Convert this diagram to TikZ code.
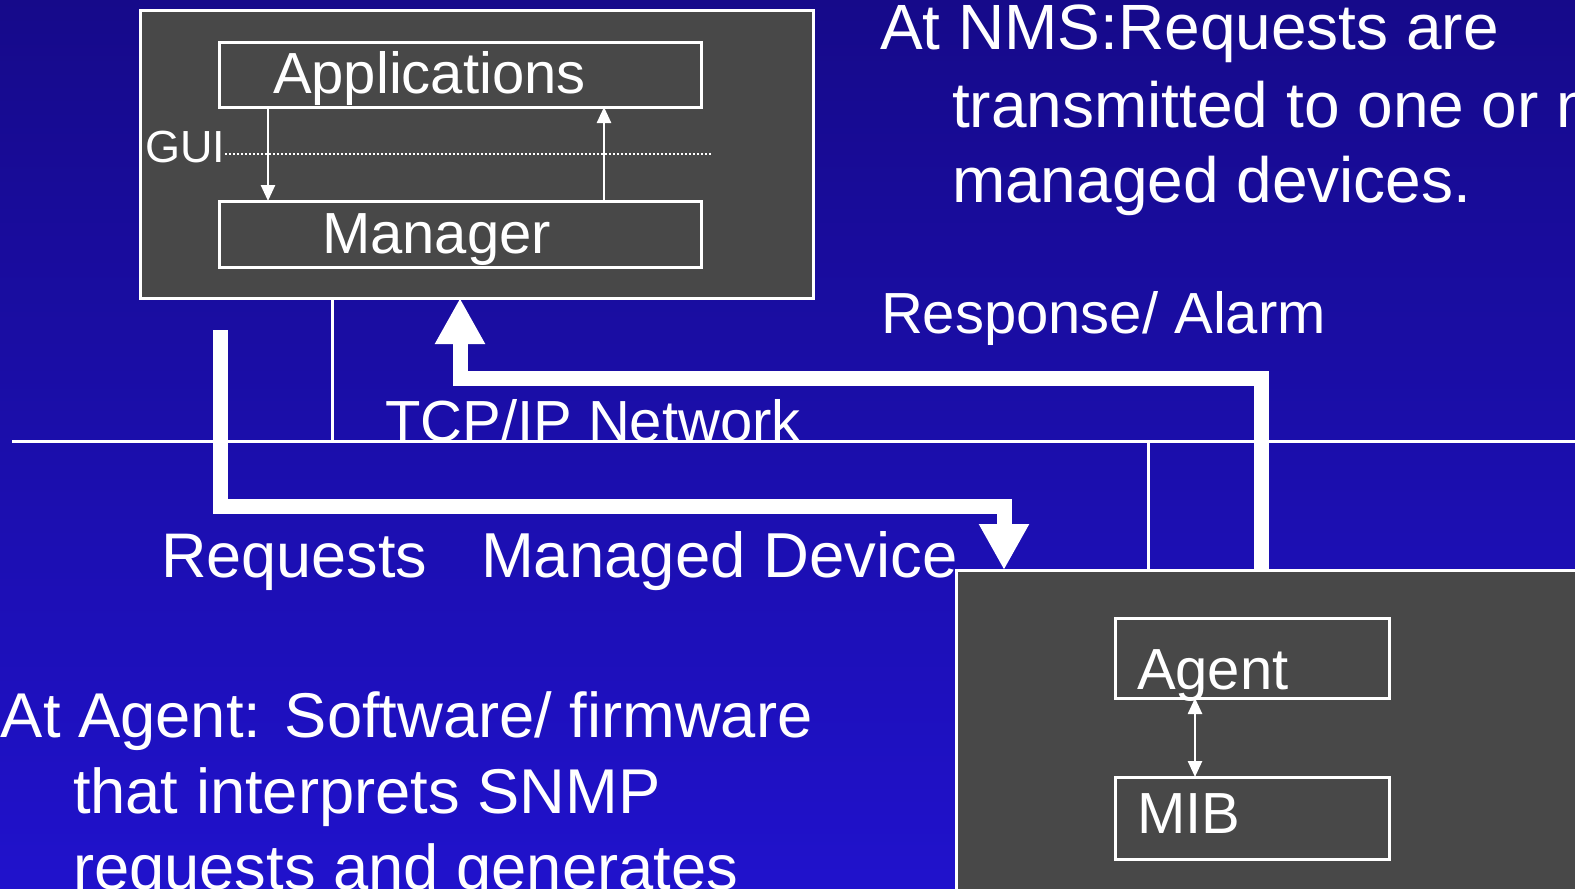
\documentclass[tikz,border=0pt]{standalone}
\usepackage{fontspec}
\setmainfont{Liberation Sans}
\usetikzlibrary{arrows.meta}
\definecolor{bgtop}{RGB}{22,10,138}
\definecolor{bgbot}{RGB}{32,18,204}
\definecolor{boxfill}{RGB}{72,72,72}
\newcommand{\fsz}[1]{\fontsize{#1}{#1}\selectfont}
\tikzset{
  bigbox/.style={draw=white, line width=3pt, fill=boxfill, inner sep=0pt, outer sep=0pt, anchor=north west},
  innerbox/.style={draw=white, line width=3pt, inner sep=0pt, outer sep=0pt, anchor=north west},
  lbl/.style={text=white, inner sep=0pt, outer sep=0pt, anchor=base west},
  netline/.style={draw=white, line width=3pt},
  bigarrow/.style={draw=white, line width=15pt, line join=miter, -{Triangle[width=47pt,length=46pt]}},
  smallarrow/.style={draw=white, line width=2.5pt, -{Triangle[width=14pt,length=16pt]}},
  dblarrow/.style={draw=white, line width=2.5pt, {Triangle[width=14pt,length=16pt]}-{Triangle[width=14pt,length=16pt]}},
  guidots/.style={draw=white, line width=2pt, dash pattern=on 2pt off 2pt},
}
\begin{document}
\begin{tikzpicture}[x=1pt, y=-1pt]
\useasboundingbox (0,0) rectangle (1575,889);
\clip (0,0) rectangle (1575,889);
\shade[top color=bgtop, bottom color=bgbot] (0,0) rectangle (1575,889);

% NMS box
\node[bigbox, minimum width=673pt, minimum height=288pt] (nms) at (140,10) {};
\node[innerbox, minimum width=482pt, minimum height=65pt] (apps) at (219,42) {};
\node[innerbox, minimum width=482pt, minimum height=66pt] (mgr) at (219,201) {};
\node[lbl, font=\fsz{58}] (appst) at (273,93) {Applications};
\node[lbl, font=\fsz{58}] (mgrt) at (322,253) {Manager};
\node[lbl, font=\fsz{45}] (gui) at (145,162) {GUI};
\coordinate (g1) at (713,154);
\draw[guidots] (gui.east |- g1) -- (g1);
\coordinate (d1) at (268,0);
\coordinate (u1) at (604,0);
\draw[smallarrow] (apps.south -| d1) -- (mgr.north -| d1);
\draw[smallarrow] (mgr.north -| u1) -- (apps.south -| u1);

% Managed device box
\node[bigbox, minimum width=700pt, minimum height=400pt] (dev) at (956,570) {};
\node[innerbox, minimum width=274pt, minimum height=80pt] (agent) at (1115,618) {};
\node[innerbox, minimum width=274pt, minimum height=82pt] (mib) at (1115,777) {};
\node[lbl, font=\fsz{58}] (agentt) at (1137,689) {Agent};
\node[lbl, font=\fsz{58}] (mibt) at (1137,833) {MIB};
\coordinate (a1) at (1195,0);
\draw[dblarrow] (agent.south -| a1) -- (mib.north -| a1);

% network
\coordinate (netL) at (12,441);
\coordinate (netR) at (1580,441);
\draw[netline] (netL) -- (netR);
\coordinate (n1) at (332,441);
\draw[netline] (nms.south -| n1) -- (n1);
\coordinate (n2) at (1148,441);
\draw[netline] (n2) -- (n2 |- dev.north);

% thick arrows
\coordinate (q0) at (220,330);
\coordinate (q1) at (220,506);
\coordinate (q2) at (1004,506);
\draw[bigarrow] (q0) -- (q1) -- (q2) -- (q2 |- dev.north);
\coordinate (r1) at (1261,378);
\coordinate (r2) at (460,378);
\draw[bigarrow] (r1 |- dev.north) -- (r1) -- (r2) -- (r2 |- nms.south);

% labels
\node[lbl, font=\fsz{58}] (tcp) at (385,441) {TCP/IP Network};
\node[lbl, font=\fsz{58}] (resp) at (881,333) {Response/ Alarm};
\node[lbl, font=\fsz{63}] (req) at (161,577) {Requests};
\node[lbl, font=\fsz{63.5}] (md) at (481,577) {Managed Device};

\node[lbl, font=\fsz{64}] (nms1) at (880,49) {At NMS:Requests are};
\node[lbl, font=\fsz{64}] (nms2) at (952,127) {transmitted to one or more};
\node[lbl, font=\fsz{64}] (nms3) at (952,202) {managed devices.};

\node[lbl, font=\fsz{63.3}] (ag1) at (1,737) {At Agent: Software/ firmware};
\node[lbl, font=\fsz{63.3}] (ag2) at (73,813) {that interprets SNMP};
\node[lbl, font=\fsz{63.3}] (ag3) at (73,889) {requests and generates};
\end{tikzpicture}
\end{document}
